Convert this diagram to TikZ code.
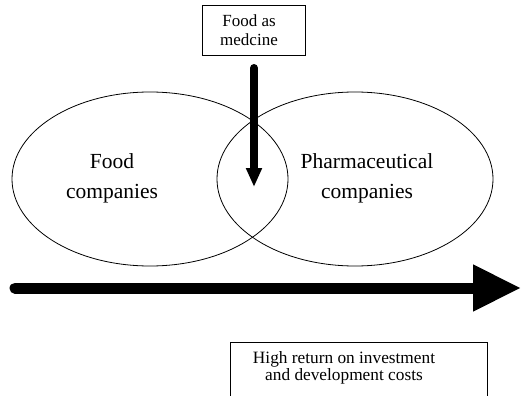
\documentclass[tikz,border=0pt]{standalone}
\usepackage{fontspec}
\setmainfont{Liberation Serif}
\usetikzlibrary{arrows.meta}
\begin{document}
\begin{tikzpicture}[x=1pt,y=-1pt,
  venn/.style={draw, line width=0.8pt},
  boxed/.style={draw, line width=0.8pt, inner sep=0pt},
  bigtext/.style={align=center, font=\fontsize{21.5}{30}\selectfont},
  smalltext/.style={align=center, font=\fontsize{17}{19}\selectfont},
  bottomtext/.style={align=center, font=\fontsize{17.3}{17.5}\selectfont},
  fatarrow/.style={line width=11pt, line cap=round, -{Triangle[width=44pt,length=48pt]}},
  downarrow/.style={line width=8pt, line cap=round, -{Triangle[width=15pt,length=19pt]}}]
\useasboundingbox (0,0) rectangle (522,396);
\begin{scope}
\clip (0,0) rectangle (522,396);
% ellipses
\draw[venn] (150,179) ellipse [x radius=138, y radius=87];
\draw[venn] (355,179) ellipse [x radius=138, y radius=87];
\node[bigtext] (food) at (112,178) {Food\\companies};
\node[bigtext] (pharma) at (367,178) {Pharmaceutical\\companies};
% top box
\node[boxed, minimum width=103pt, minimum height=50pt] (fam) at (253.5,30) {};
\node[smalltext] (famtext) at (249,30) {Food as\\medcine};
% bottom box
\node[boxed, minimum width=257pt, minimum height=80pt, anchor=north west] (hr) at (230,342) {};
\node[bottomtext] (hrtext) at (344,368) {High return on investment\\and development costs};
% arrows
\coordinate (vs) at (254,68);
\coordinate (ve) at (254,187);
\draw[downarrow] (vs) -- (ve);
\coordinate (hs) at (15,288);
\coordinate (he) at (521,288);
\draw[fatarrow] (hs) -- (he);
\end{scope}
\end{tikzpicture}
\end{document}
